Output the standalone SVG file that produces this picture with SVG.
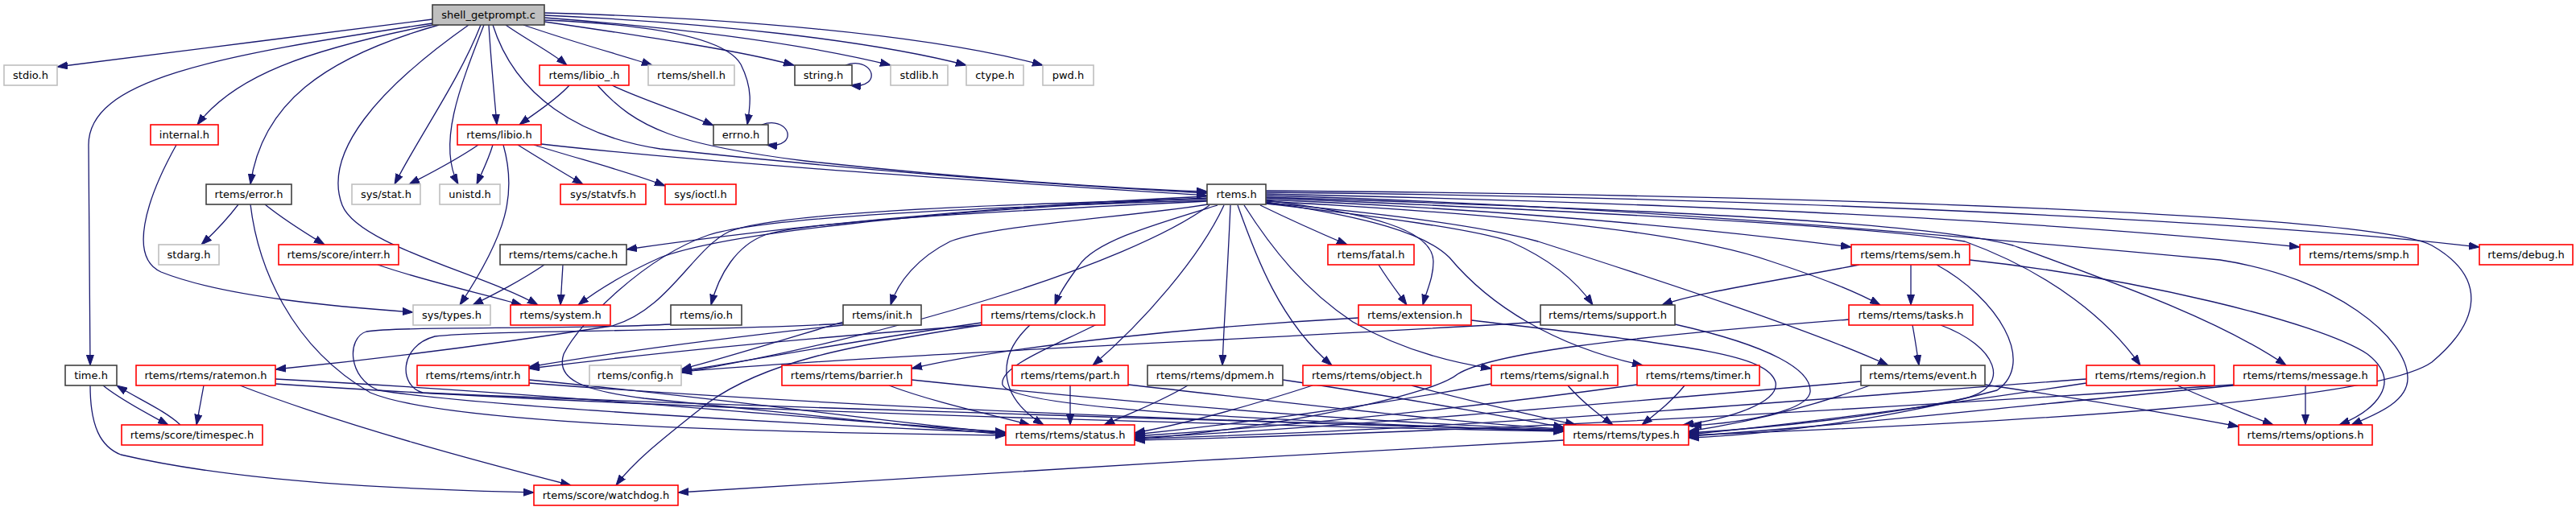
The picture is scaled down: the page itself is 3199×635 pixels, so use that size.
<svg xmlns="http://www.w3.org/2000/svg" width="3199" height="635" viewBox="0 0 3199 635">
<style>
.n rect{fill:#ffffff;stroke-width:1.6}
.g rect{stroke:#bfbfbf}
.b rect{stroke:#404040}
.r rect{stroke:#ff0000}
.root rect{fill:#bfbfbf;stroke:#404040}
.n text{font-family:"DejaVu Sans",sans-serif;font-size:13px;text-anchor:middle;fill:#000000}
#edges path{fill:none;stroke:#191970;stroke-width:1.3;marker-end:url(#a)}
</style>
<defs>
<marker id="a" markerUnits="userSpaceOnUse" viewBox="0 0 14 10" markerWidth="14" markerHeight="10" refX="13" refY="5" orient="auto">
<path d="M0,0.5 L13,5 L0,9.5 z" fill="#191970" stroke="#191970" stroke-width="1"/>
</marker>
</defs>
<rect x="0" y="0" width="3199" height="635" fill="#ffffff"/>
<g id="edges">
<path d="M537,24 C400,42 200,66 71,83"/>
<path d="M537,29 C260,70 110,100 110,180 L112,454"/>
<path d="M537,31 C380,62 290,95 245,155"/>
<path d="M545,31 C400,72 325,130 311,229"/>
<path d="M582,31 C470,110 400,190 425,255 C445,305 600,340 668,379"/>
<path d="M597,31 C570,100 520,170 490,229"/>
<path d="M601,31 C570,110 543,180 569,229"/>
<path d="M607,31 C610,80 614,120 617,155"/>
<path d="M612,31 C640,120 720,170 820,185 C1100,215 1350,232 1499,240"/>
<path d="M628,31 C655,50 685,65 704,81"/>
<path d="M650,31 C720,55 770,68 810,81"/>
<path d="M676,27 C800,45 920,63 986,81"/>
<path d="M676,22 C850,35 1000,55 1106,81"/>
<path d="M676,19 C880,28 1080,50 1200,81"/>
<path d="M676,16 C900,22 1150,42 1295,81"/>
<path d="M676,25 C800,30 900,45 920,80 C935,110 932,130 928,155"/>
<path d="M1050,81 C1075,72 1090,92 1078,102 C1072,107 1065,107 1056,106"/>
<path d="M946,155 C971,146 986,166 974,176 C968,181 961,181 952,180"/>
<path d="M707,106 C690,125 665,140 645,155"/>
<path d="M760,106 C800,125 850,140 886,156"/>
<path d="M742,106 C790,160 840,180 1000,200 C1200,222 1400,235 1499,238"/>
<path d="M219,180 C180,250 160,320 200,338 C280,370 430,382 513,388"/>
<path d="M594,180 C565,200 535,215 508,229"/>
<path d="M612,180 C606,200 598,215 592,229"/>
<path d="M643,180 C675,200 700,215 724,229"/>
<path d="M663,180 C720,198 780,213 826,231"/>
<path d="M672,179 C900,205 1300,230 1499,243"/>
<path d="M625,180 C642,240 630,290 571,379"/>
<path d="M296,254 C280,275 265,290 250,304"/>
<path d="M329,254 C355,275 380,290 403,304"/>
<path d="M311,254 C320,330 360,430 460,488 C560,530 1000,538 1249,541"/>
<path d="M469,329 C530,350 600,365 648,379"/>
<path d="M676,329 C645,350 615,365 587,379"/>
<path d="M699,329 C698,345 697,362 696,379"/>
<path d="M1499,244 C1200,258 950,285 778,310"/>
<path d="M1499,246 C1150,262 900,290 820,320 C780,338 745,358 718,379"/>
<path d="M1499,247 C1200,255 960,265 905,288 C860,310 830,385 760,405 C600,430 450,448 342,459"/>
<path d="M1499,249 C1200,258 950,270 880,292 C800,320 720,400 700,440 C690,470 720,485 800,495 C1000,515 1150,532 1249,540"/>
<path d="M1499,250 C1250,262 1000,275 950,292 C915,305 893,340 883,379"/>
<path d="M1500,254 C1400,270 1230,280 1180,300 C1140,320 1115,350 1106,379"/>
<path d="M1502,255 C1400,330 1100,420 846,463"/>
<path d="M1512,255 C1430,280 1360,300 1340,330 C1325,350 1315,365 1310,379"/>
<path d="M1520,255 C1490,320 1420,400 1357,454"/>
<path d="M1528,255 C1525,330 1520,400 1518,454"/>
<path d="M1537,255 C1560,320 1590,400 1654,454"/>
<path d="M1545,255 C1580,310 1620,360 1680,400 C1740,435 1800,450 1852,458"/>
<path d="M1565,255 C1600,272 1640,290 1673,304"/>
<path d="M1572,249 C1700,265 1780,285 1780,325 C1780,345 1772,360 1767,379"/>
<path d="M1572,251 C1700,270 1770,290 1800,320 C1850,380 1930,430 2040,454"/>
<path d="M1572,253 C1720,270 1830,285 1875,300 C1920,320 1955,345 1978,379"/>
<path d="M1572,252 C1750,268 1850,283 1910,300 C2050,345 2250,410 2345,454"/>
<path d="M1572,250 C1900,268 2100,290 2200,325 C2260,345 2300,360 2335,379"/>
<path d="M1572,248 C1900,262 2150,288 2299,307"/>
<path d="M1572,246 C2100,268 2350,285 2440,300 C2550,340 2620,400 2658,454"/>
<path d="M1572,245 C2100,262 2400,278 2500,305 C2650,360 2760,400 2839,454"/>
<path d="M1572,243 C2000,255 2400,290 2757,323 C2900,345 2990,420 2990,470 C2990,500 2950,515 2920,528"/>
<path d="M1572,241 C2000,250 2500,270 2856,307"/>
<path d="M1572,239 C2200,245 2800,275 3079,307"/>
<path d="M1572,237 C2300,243 2950,268 3020,305 C3090,345 3080,400 3020,450 C2950,500 2500,525 2097,541"/>
<path d="M1712,329 C1725,350 1737,365 1747,379"/>
<path d="M1687,395 C1500,405 1250,430 1132,458"/>
<path d="M1827,398 C2100,430 2195,440 2205,475 C2210,500 2150,520 2090,528"/>
<path d="M1913,400 C1600,420 1100,440 846,462"/>
<path d="M2080,403 C2200,430 2250,460 2248,487 C2245,510 2170,525 2100,529"/>
<path d="M2309,329 C2200,350 2100,365 2064,379"/>
<path d="M2373,329 L2373,379"/>
<path d="M2446,323 C2650,345 2880,400 2940,440 C2985,475 2950,510 2905,528"/>
<path d="M2405,329 C2480,370 2530,450 2480,485 C2350,520 2200,540 2097,544"/>
<path d="M2375,404 C2378,420 2381,440 2383,454"/>
<path d="M2296,397 C2000,420 1850,440 1810,465 C1780,490 1600,530 1409,546"/>
<path d="M2410,404 C2480,430 2500,480 2440,495 C2350,515 2200,532 2097,538"/>
<path d="M833,403 C700,410 500,405 455,412 C430,420 432,470 470,485 C600,505 1000,528 1249,538"/>
<path d="M1047,402 C900,412 600,410 540,418 C495,430 495,480 525,488 C900,505 1600,525 1942,535"/>
<path d="M1047,400 C980,420 900,445 846,459"/>
<path d="M1047,404 C900,420 750,440 657,456"/>
<path d="M1219,401 C1050,425 950,445 846,461"/>
<path d="M1219,404 C1000,420 800,440 657,458"/>
<path d="M1279,404 C1240,440 1235,490 1296,528"/>
<path d="M1372,398 C1310,430 1240,455 1245,478 C1255,505 1500,520 1942,536"/>
<path d="M1219,404 C1050,430 950,450 880,500 C830,540 790,570 765,603"/>
<path d="M1104,479 C1160,500 1230,515 1279,528"/>
<path d="M1132,472 C1400,500 1700,525 1942,534"/>
<path d="M1329,479 L1329,528"/>
<path d="M1401,478 C1600,500 1800,525 1942,533"/>
<path d="M1475,479 C1440,500 1400,515 1371,528"/>
<path d="M1593,472 C1750,495 1880,520 1942,531"/>
<path d="M1630,479 C1550,505 1480,525 1409,538"/>
<path d="M1753,479 C1830,500 1900,515 1957,528"/>
<path d="M1852,477 C1700,505 1550,525 1409,540"/>
<path d="M1947,479 C1965,500 1985,515 2003,528"/>
<path d="M2033,478 C1800,510 1600,530 1409,542"/>
<path d="M2092,479 C2075,500 2055,515 2039,528"/>
<path d="M2311,474 C1900,510 1600,535 1409,544"/>
<path d="M2322,479 C2250,505 2170,525 2097,536"/>
<path d="M2465,478 C2580,495 2700,515 2780,530"/>
<path d="M2704,479 C2750,500 2790,515 2823,528"/>
<path d="M2591,471 C2200,500 1800,535 1409,545"/>
<path d="M2591,476 C2400,505 2250,525 2097,540"/>
<path d="M2863,479 L2863,528"/>
<path d="M2774,478 C2300,510 1800,538 1409,547"/>
<path d="M2774,479 C2500,505 2300,528 2097,542"/>
<path d="M657,472 C900,495 1100,525 1249,538"/>
<path d="M657,476 C1100,510 1600,526 1942,535"/>
<path d="M342,471 C700,490 1000,520 1249,537"/>
<path d="M342,477 C800,508 1500,528 1942,536"/>
<path d="M253,479 L244,528"/>
<path d="M298,479 C430,530 600,575 709,603"/>
<path d="M128,479 C150,497 185,515 209,528"/>
<path d="M224,528 C205,510 170,495 145,479"/>
<path d="M112,479 C112,530 125,555 150,565 C300,600 500,608 663,612"/>
<path d="M1942,547 C1600,565 1100,595 842,612"/>
</g>
<g id="node1" class="n root"><rect x="537" y="6" width="139" height="25"/><text x="606.5" y="22.5">shell_getprompt.c</text></g>
<g id="node2" class="n g"><rect x="5" y="81" width="66" height="25"/><text x="38" y="97.5">stdio.h</text></g>
<g id="node3" class="n r"><rect x="670" y="81" width="111" height="25"/><text x="725.5" y="97.5">rtems/libio_.h</text></g>
<g id="node4" class="n g"><rect x="805" y="81" width="107" height="25"/><text x="858.5" y="97.5">rtems/shell.h</text></g>
<g id="node5" class="n b"><rect x="987" y="81" width="71" height="25"/><text x="1022.5" y="97.5">string.h</text></g>
<g id="node6" class="n g"><rect x="1106" y="81" width="71" height="25"/><text x="1141.5" y="97.5">stdlib.h</text></g>
<g id="node7" class="n g"><rect x="1200" y="81" width="71" height="25"/><text x="1235.5" y="97.5">ctype.h</text></g>
<g id="node8" class="n g"><rect x="1295" y="81" width="63" height="25"/><text x="1326.5" y="97.5">pwd.h</text></g>
<g id="node9" class="n r"><rect x="187" y="155" width="84" height="25"/><text x="229" y="171.5">internal.h</text></g>
<g id="node10" class="n r"><rect x="568" y="155" width="104" height="25"/><text x="620" y="171.5">rtems/libio.h</text></g>
<g id="node11" class="n b"><rect x="886" y="155" width="68" height="25"/><text x="920" y="171.5">errno.h</text></g>
<g id="node12" class="n b"><rect x="256" y="229" width="106" height="25"/><text x="309" y="245.5">rtems/error.h</text></g>
<g id="node13" class="n g"><rect x="437" y="229" width="85" height="25"/><text x="479.5" y="245.5">sys/stat.h</text></g>
<g id="node14" class="n g"><rect x="546" y="229" width="75" height="25"/><text x="583.5" y="245.5">unistd.h</text></g>
<g id="node15" class="n r"><rect x="696" y="229" width="106" height="25"/><text x="749" y="245.5">sys/statvfs.h</text></g>
<g id="node16" class="n r"><rect x="826" y="229" width="88" height="25"/><text x="870" y="245.5">sys/ioctl.h</text></g>
<g id="node17" class="n b"><rect x="1499" y="229" width="73" height="25"/><text x="1535.5" y="245.5">rtems.h</text></g>
<g id="node18" class="n g"><rect x="197" y="304" width="75" height="25"/><text x="234.5" y="320.5">stdarg.h</text></g>
<g id="node19" class="n r"><rect x="346" y="304" width="149" height="25"/><text x="420.5" y="320.5">rtems/score/interr.h</text></g>
<g id="node20" class="n b"><rect x="621" y="304" width="157" height="25"/><text x="699.5" y="320.5">rtems/rtems/cache.h</text></g>
<g id="node21" class="n r"><rect x="1649" y="304" width="107" height="25"/><text x="1702.5" y="320.5">rtems/fatal.h</text></g>
<g id="node22" class="n r"><rect x="2299" y="304" width="147" height="25"/><text x="2372.5" y="320.5">rtems/rtems/sem.h</text></g>
<g id="node23" class="n r"><rect x="2856" y="304" width="147" height="25"/><text x="2929.5" y="320.5">rtems/rtems/smp.h</text></g>
<g id="node24" class="n r"><rect x="3079" y="304" width="116" height="25"/><text x="3137" y="320.5">rtems/debug.h</text></g>
<g id="node25" class="n g"><rect x="513" y="379" width="96" height="25"/><text x="561" y="395.5">sys/types.h</text></g>
<g id="node26" class="n r"><rect x="634" y="379" width="124" height="25"/><text x="696" y="395.5">rtems/system.h</text></g>
<g id="node27" class="n b"><rect x="833" y="379" width="88" height="25"/><text x="877" y="395.5">rtems/io.h</text></g>
<g id="node28" class="n b"><rect x="1047" y="379" width="97" height="25"/><text x="1095.5" y="395.5">rtems/init.h</text></g>
<g id="node29" class="n r"><rect x="1219" y="379" width="153" height="25"/><text x="1295.5" y="395.5">rtems/rtems/clock.h</text></g>
<g id="node30" class="n r"><rect x="1687" y="379" width="140" height="25"/><text x="1757" y="395.5">rtems/extension.h</text></g>
<g id="node31" class="n b"><rect x="1913" y="379" width="167" height="25"/><text x="1996.5" y="395.5">rtems/rtems/support.h</text></g>
<g id="node32" class="n r"><rect x="2296" y="379" width="154" height="25"/><text x="2373" y="395.5">rtems/rtems/tasks.h</text></g>
<g id="node33" class="n b"><rect x="81" y="454" width="64" height="25"/><text x="113" y="470.5">time.h</text></g>
<g id="node34" class="n r"><rect x="169" y="454" width="173" height="25"/><text x="255.5" y="470.5">rtems/rtems/ratemon.h</text></g>
<g id="node35" class="n r"><rect x="518" y="454" width="139" height="25"/><text x="587.5" y="470.5">rtems/rtems/intr.h</text></g>
<g id="node36" class="n g"><rect x="732" y="454" width="114" height="25"/><text x="789" y="470.5">rtems/config.h</text></g>
<g id="node37" class="n r"><rect x="971" y="454" width="161" height="25"/><text x="1051.5" y="470.5">rtems/rtems/barrier.h</text></g>
<g id="node38" class="n r"><rect x="1257" y="454" width="144" height="25"/><text x="1329" y="470.5">rtems/rtems/part.h</text></g>
<g id="node39" class="n b"><rect x="1425" y="454" width="168" height="25"/><text x="1509" y="470.5">rtems/rtems/dpmem.h</text></g>
<g id="node40" class="n r"><rect x="1618" y="454" width="159" height="25"/><text x="1697.5" y="470.5">rtems/rtems/object.h</text></g>
<g id="node41" class="n r"><rect x="1852" y="454" width="157" height="25"/><text x="1930.5" y="470.5">rtems/rtems/signal.h</text></g>
<g id="node42" class="n r"><rect x="2033" y="454" width="152" height="25"/><text x="2109" y="470.5">rtems/rtems/timer.h</text></g>
<g id="node43" class="n b"><rect x="2311" y="454" width="154" height="25"/><text x="2388" y="470.5">rtems/rtems/event.h</text></g>
<g id="node44" class="n r"><rect x="2591" y="454" width="159" height="25"/><text x="2670.5" y="470.5">rtems/rtems/region.h</text></g>
<g id="node45" class="n r"><rect x="2774" y="454" width="178" height="25"/><text x="2863" y="470.5">rtems/rtems/message.h</text></g>
<g id="node46" class="n r"><rect x="151" y="528" width="175" height="25"/><text x="238.5" y="544.5">rtems/score/timespec.h</text></g>
<g id="node47" class="n r"><rect x="1249" y="528" width="160" height="25"/><text x="1329" y="544.5">rtems/rtems/status.h</text></g>
<g id="node48" class="n r"><rect x="1942" y="528" width="155" height="25"/><text x="2019.5" y="544.5">rtems/rtems/types.h</text></g>
<g id="node49" class="n r"><rect x="2780" y="528" width="166" height="25"/><text x="2863" y="544.5">rtems/rtems/options.h</text></g>
<g id="node50" class="n r"><rect x="663" y="603" width="179" height="25"/><text x="752.5" y="619.5">rtems/score/watchdog.h</text></g>
</svg>
